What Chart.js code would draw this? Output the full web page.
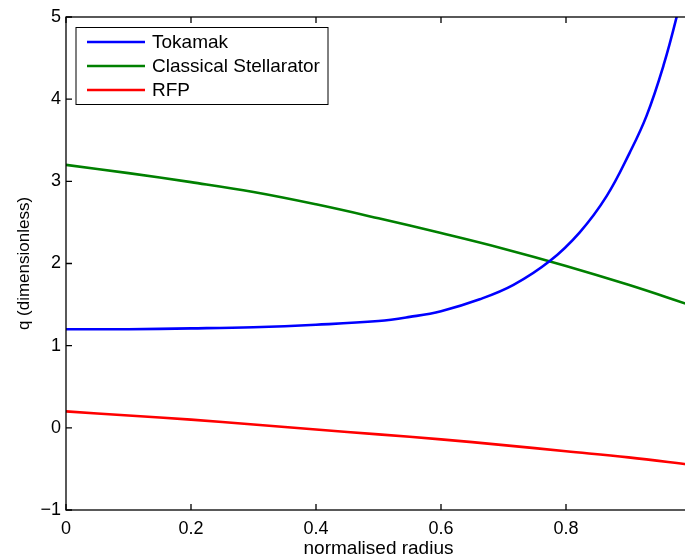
<!DOCTYPE html>
<html>
<head>
<meta charset="utf-8">
<script src="https://cdn.jsdelivr.net/npm/chart.js@4.4.1/dist/chart.umd.min.js"></script>
<style>
  html, body { margin: 0; padding: 0; background: #fff; overflow: hidden; }
  canvas { display: block; }
</style>
</head>
<body>
<canvas id="grafica-q" width="692" height="558"></canvas>
<script>
// Perfiles de q frente al radio normalizado
const radioTokamak = [0, 0.1, 0.2, 0.3, 0.4, 0.5, 0.55, 0.6, 0.662, 0.716, 0.774, 0.822, 0.865, 0.902, 0.929, 0.956, 0.977, 0.99];
const qTokamak = [1.20, 1.20, 1.21, 1.225, 1.255, 1.30, 1.35, 1.42, 1.565, 1.74, 2.03, 2.38, 2.82, 3.35, 3.80, 4.41, 5.0, 5.45];

const radioStell = [0, 0.1, 0.2, 0.3, 0.4, 0.5, 0.6, 0.7, 0.8, 0.9, 1.0];
const qStell = [3.20, 3.10, 2.99, 2.87, 2.72, 2.55, 2.37, 2.18, 1.97, 1.74, 1.49];

const radioRFP = [0, 0.1, 0.2, 0.3, 0.4, 0.5, 0.6, 0.7, 0.8, 0.9, 1.0];
const qRFP = [0.20, 0.15, 0.10, 0.04, -0.02, -0.08, -0.14, -0.21, -0.285, -0.36, -0.45];

const nombres = ['Tokamak', 'Classical Stellarator', 'RFP'];
const colores = ['#0000ff', '#008000', '#ff0000'];
const ticksX = [0, 0.2, 0.4, 0.6, 0.8];
const ticksY = [-1, 0, 1, 2, 3, 4, 5];

const FUENTE = '"Liberation Sans", Arial, Helvetica, sans-serif';

function puntos(xs, ys) {
  return xs.map((x, i) => ({ x: x, y: ys[i] }));
}

// caja de ejes estilo matlab: marco completo y marcas hacia dentro
const marcoEjes = {
  id: 'marcoEjes',
  afterDatasetsDraw(chart) {
    const { ctx, chartArea: a, scales: { x, y } } = chart;
    ctx.save();
    ctx.strokeStyle = '#000';
    ctx.lineWidth = 1.3;
    ctx.strokeRect(a.left, a.top, a.right - a.left, a.bottom - a.top);
    ctx.beginPath();
    x.ticks.forEach(t => {
      const px = x.getPixelForValue(t.value);
      ctx.moveTo(px, a.bottom); ctx.lineTo(px, a.bottom - 6);
      ctx.moveTo(px, a.top); ctx.lineTo(px, a.top + 6);
    });
    y.ticks.forEach(t => {
      const py = y.getPixelForValue(t.value);
      ctx.moveTo(a.left, py); ctx.lineTo(a.left + 6, py);
      ctx.moveTo(a.right, py); ctx.lineTo(a.right - 6, py);
    });
    ctx.stroke();
    ctx.restore();
  }
};

// leyenda dentro del área, arriba a la izquierda
const leyendaCaja = {
  id: 'leyendaCaja',
  afterDraw(chart) {
    const { ctx, chartArea: a } = chart;
    const x0 = a.left + 10, y0 = a.top + 10.5;
    const ancho = 252, alto = 77;
    ctx.save();
    ctx.fillStyle = '#fff';
    ctx.fillRect(x0, y0, ancho, alto);
    ctx.strokeStyle = '#000';
    ctx.lineWidth = 1;
    ctx.strokeRect(x0, y0, ancho, alto);
    ctx.font = '19px ' + FUENTE;
    ctx.textBaseline = 'middle';
    ctx.textAlign = 'left';
    chart.data.datasets.forEach((ds, i) => {
      const fy = y0 + 14.5 + i * 24;
      ctx.strokeStyle = ds.borderColor;
      ctx.lineWidth = 2.5;
      ctx.beginPath();
      ctx.moveTo(x0 + 11, fy);
      ctx.lineTo(x0 + 69, fy);
      ctx.stroke();
      ctx.fillStyle = '#000';
      ctx.fillText(ds.label, x0 + 76, fy + 1);
    });
    ctx.restore();
  }
};

const ctx = document.getElementById('grafica-q').getContext('2d');
new Chart(ctx, {
  type: 'line',
  data: {
    datasets: [
      { label: nombres[0], data: puntos(radioTokamak, qTokamak), borderColor: colores[0] },
      { label: nombres[1], data: puntos(radioStell, qStell), borderColor: colores[1] },
      { label: nombres[2], data: puntos(radioRFP, qRFP), borderColor: colores[2] }
    ]
  },
  options: {
    responsive: false,
    animation: false,
    devicePixelRatio: 1,
    layout: { padding: { top: 17, right: 1, left: 0, bottom: 0 } },
    elements: {
      line: { borderWidth: 2.6, fill: false, tension: 0.4 },
      point: { radius: 0, hoverRadius: 0 }
    },
    plugins: {
      legend: { display: false },
      tooltip: { enabled: false },
      title: { display: false }
    },
    scales: {
      x: {
        type: 'linear',
        min: 0,
        max: 1,
        afterBuildTicks: s => { s.ticks = ticksX.map(v => ({ value: v })); },
        afterFit: s => { s.height = 48; },
        grid: { display: false, drawTicks: false },
        border: { display: false },
        ticks: {
          padding: 8,
          color: '#000',
          font: { family: FUENTE, size: 18 },
          maxRotation: 0,
          callback: v => String(v)
        },
        title: {
          display: true,
          text: 'normalised radius',
          color: '#000',
          font: { family: FUENTE, size: 19, lineHeight: 1 },
          padding: { top: 0, bottom: 0 }
        }
      },
      y: {
        type: 'linear',
        min: -1,
        max: 5,
        afterBuildTicks: s => { s.ticks = ticksY.map(v => ({ value: v })); },
        afterFit: s => { s.width = 66; },
        grid: { display: false, drawTicks: false },
        border: { display: false },
        ticks: {
          padding: 5,
          color: '#000',
          font: { family: FUENTE, size: 18 },
          callback: v => (v < 0 ? '\u2212' + Math.abs(v) : String(v))
        },
        title: {
          display: true,
          text: 'q (dimensionless)',
          color: '#000',
          font: { family: FUENTE, size: 17, lineHeight: 1 },
          padding: { top: 15.5, bottom: 0 }
        }
      }
    }
  },
  plugins: [marcoEjes, leyendaCaja]
});
</script>
</body>
</html>
